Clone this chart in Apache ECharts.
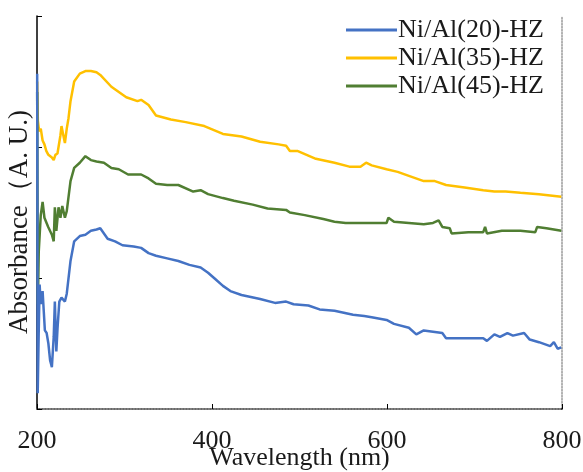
<!DOCTYPE html>
<html>
<head>
<meta charset="utf-8">
<script src="https://cdn.jsdelivr.net/npm/echarts@6/dist/echarts.min.js"></script>
<style>html,body{margin:0;padding:0;background:#fff}#c{width:583px;height:472px}</style>
</head>
<body>
<div id="c"></div>
<script>
var seriesNames = ['Ni/Al(20)-HZ', 'Ni/Al(35)-HZ', 'Ni/Al(45)-HZ'];
var xTicks = [200, 400, 600, 800];
var yLabel = 'Absorbance（A. U.)';

var wl20 = [200.2,200.8,202,203,204.3,206.4,207.7,209,211,213,215,217,219.1,220.4,222.1,223.5,225.5,228,231.9,234,238.3,242.5,248.9,255.3,261.6,268,272.3,280.7,289.2,297.7,310.5,319,327.5,336,348.8,361.5,374.2,387,395.5,404,412.5,421,433.7,455,472,484.7,493.2,510.2,523,540,561.2,574,582.5,599.5,608,625,633.5,642,663.2,667.5,688.7,710,714.2,722.7,729.1,737.6,744,756.7,763.1,773.7,786.5,790.7,795,799.2];
var abs20 = [2.56,0.12,0.60,0.95,0.80,0.90,0.75,0.60,0.58,0.50,0.37,0.32,0.55,0.82,0.44,0.62,0.82,0.85,0.82,0.88,1.13,1.28,1.32,1.33,1.36,1.37,1.38,1.30,1.28,1.25,1.24,1.23,1.19,1.17,1.15,1.13,1.10,1.08,1.04,0.99,0.94,0.90,0.87,0.84,0.81,0.82,0.80,0.79,0.76,0.75,0.72,0.71,0.70,0.68,0.65,0.62,0.57,0.60,0.58,0.54,0.54,0.54,0.52,0.57,0.55,0.58,0.56,0.58,0.53,0.51,0.48,0.51,0.46,0.47];

var wl35 = [200.2,201,202.5,204.3,206.4,208.5,210.6,213,217,219.1,221,223.4,226.8,228,229.8,231.9,234,236,238.3,242.5,248.9,255.3,261.6,268,272.3,285,302,314.8,319,327.5,336,353,370,391.2,412.5,433.7,455,476.2,484.7,489,497.5,518.7,540,557,569.7,576.1,582.5,599.5,612.2,625,642,654.7,667.5,688.7,710,722.7,735.5,752.5,773.7,799.2];
var abs35 = [2.50,2.20,2.12,2.14,2.05,2.02,1.97,1.94,1.92,1.90,1.94,1.95,2.09,2.16,2.10,2.03,2.14,2.22,2.35,2.50,2.56,2.58,2.58,2.57,2.55,2.46,2.38,2.35,2.36,2.32,2.24,2.21,2.19,2.16,2.10,2.08,2.04,2.02,2.01,1.97,1.97,1.91,1.88,1.85,1.85,1.88,1.86,1.83,1.81,1.78,1.74,1.74,1.71,1.69,1.67,1.66,1.66,1.65,1.64,1.62];

var wl45 = [200.2,201,202,204.3,206.4,208.5,212.8,217,219.1,220.4,222.1,224.6,226.8,228.9,231.9,234,238.3,242.5,248.9,255.3,261.6,268,276.5,285,293.5,304.1,319,327.5,336,348.8,361.5,378.5,387,395.5,412.5,425.2,446.5,463.5,484.7,489,506,527.2,540,552.7,582.5,599.5,601.6,608,625,642,652.6,659,663.2,671.7,673.8,693,710,712.1,714.2,731.2,752.5,769.5,771.6,782.2,799.2];
var abs45 = [2.42,0.80,1.20,1.48,1.58,1.46,1.39,1.33,1.28,1.54,1.36,1.54,1.46,1.55,1.46,1.51,1.74,1.84,1.88,1.93,1.90,1.89,1.88,1.84,1.83,1.79,1.79,1.76,1.72,1.71,1.71,1.66,1.67,1.64,1.61,1.59,1.56,1.53,1.52,1.50,1.48,1.45,1.43,1.42,1.42,1.42,1.46,1.43,1.42,1.41,1.42,1.44,1.39,1.38,1.34,1.35,1.35,1.39,1.34,1.36,1.36,1.35,1.39,1.38,1.36];

var colors = ['#4472C4', '#FFC000', '#507E32'];
function pairs(xs, ys) { return xs.map(function (x, i) { return [x, ys[i]]; }); }
var dataSets = [pairs(wl20, abs20), pairs(wl35, abs35), pairs(wl45, abs45)];

var FONT = '"Liberation Serif", "Times New Roman", serif';
var chart = echarts.init(document.getElementById('c'), null, {renderer: 'canvas'});
chart.setOption({
  animation: false,
  backgroundColor: '#ffffff',
  grid: {left: 37, right: 21, top: 16, bottom: 63, containLabel: false, outerBoundsMode: 'none'},
  legend: {
    orient: 'vertical', left: 346, top: 16, itemGap: 0, padding: 0,
    itemWidth: 51, itemHeight: 3, icon: 'rect',
    textStyle: {fontFamily: FONT, fontSize: 26, color: '#1a1a1a', lineHeight: 28, padding: [0, 0, 0, -4]},
    data: seriesNames
  },
  graphic: [{
    type: 'text', x: 20, y: 222, rotation: Math.PI / 2, silent: true,
    style: {text: yLabel, fontFamily: FONT, fontSize: 27, fill: '#1a1a1a',
      textAlign: 'center', textVerticalAlign: 'middle', align: 'center', verticalAlign: 'middle'}
  }],
  xAxis: [{
    type: 'value', min: xTicks[0], max: xTicks[xTicks.length - 1], interval: 200,
    name: 'Wavelength (nm)', nameLocation: 'middle', nameGap: 36, nameMoveOverlap: false,
    nameTextStyle: {fontFamily: FONT, fontSize: 26, color: '#1a1a1a'},
    axisLine: {lineStyle: {color: '#000', width: 1.5}},
    axisTick: {inside: true, length: 5, lineStyle: {color: '#000'}},
    axisLabel: {fontFamily: FONT, fontSize: 26, color: '#1a1a1a', margin: 19},
    splitLine: {show: false}
  }, {
    type: 'value', position: 'top', min: 200, max: 800,
    axisLine: {show: true, lineStyle: {color: '#999', type: 'dotted', width: 1.5}},
    axisTick: {show: false}, axisLabel: {show: false}, splitLine: {show: false}
  }],
  yAxis: [{
    type: 'value', min: 0, max: 3, interval: 1,
    axisLine: {show: true, lineStyle: {color: '#000', width: 1.5}},
    axisTick: {show: true, inside: true, length: 5, lineStyle: {color: '#000'}},
    axisLabel: {show: false},
    splitLine: {show: false}
  }, {
    type: 'value', position: 'right', min: 0, max: 3,
    axisLine: {show: true, lineStyle: {color: '#999', type: 'dotted', width: 1.5}},
    axisTick: {show: false}, axisLabel: {show: false}, splitLine: {show: false}
  }],
  series: seriesNames.map(function (n, i) {
    return {
      name: n, type: 'line', data: dataSets[i], symbol: 'none',
      lineStyle: {color: colors[i], width: 2.5}, itemStyle: {color: colors[i]},
      z: i === 0 ? 4 : (i === 2 ? 3 : 2)
    };
  })
});
</script>
</body>
</html>
